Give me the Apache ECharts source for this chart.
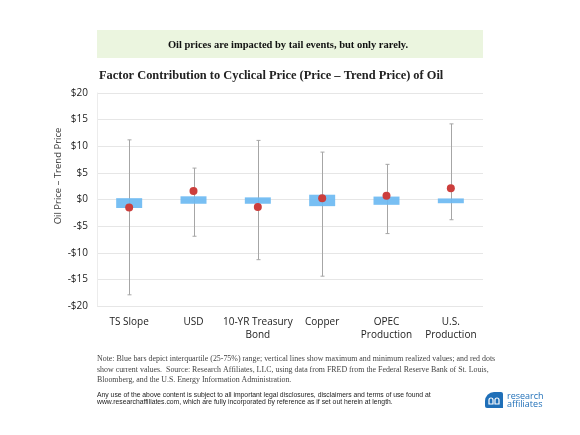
<!DOCTYPE html>
<html>
<head>
<meta charset="utf-8">
<script src="https://cdn.jsdelivr.net/npm/echarts@6/dist/echarts.min.js"></script>
<style>
  html, body { margin: 0; padding: 0; background: #fff; }
  #chart { width: 580px; height: 435px; }
</style>
</head>
<body>
<div id="chart"></div>
<script>
// ------------------------------
// Data
// ------------------------------
var categories = ['TS Slope', 'USD', '10-YR Treasury\nBond', 'Copper', 'OPEC\nProduction', 'U.S.\nProduction'];
var maxValues = [11.2, 5.9, 11.1, 8.9, 6.6, 14.2];
var minValues = [-17.9, -6.9, -11.3, -14.4, -6.4, -3.8];
var upperQuartile = [0.25, 0.6, 0.4, 0.9, 0.55, 0.2];
var lowerQuartile = [-1.6, -0.8, -0.8, -1.25, -1.0, -0.7];
var currentValues = [-1.5, 1.6, -1.4, 0.25, 0.7, 2.1];
var yTicks = [-20, -15, -10, -5, 0, 5, 10, 15, 20];

var whiskerData = categories.map(function (c, i) { return [i, maxValues[i], minValues[i]]; });
var boxData = categories.map(function (c, i) { return [i, upperQuartile[i], lowerQuartile[i]]; });

var chart = echarts.init(document.getElementById('chart'));

function renderWhisker(params, api) {
    var top = api.coord([api.value(0), api.value(1)]);
    var bot = api.coord([api.value(0), api.value(2)]);
    var x = Math.round(top[0]) + 0.5;
    var st = { stroke: '#a6a6a6', lineWidth: 1 };
    return {
        type: 'group',
        children: [
            { type: 'line', shape: { x1: x, y1: top[1], x2: x, y2: bot[1] }, style: st },
            { type: 'line', shape: { x1: x - 2, y1: top[1], x2: x + 2, y2: top[1] }, style: st },
            { type: 'line', shape: { x1: x - 2, y1: bot[1], x2: x + 2, y2: bot[1] }, style: st }
        ]
    };
}

function renderBox(params, api) {
    var top = api.coord([api.value(0), api.value(1)]);
    var bot = api.coord([api.value(0), api.value(2)]);
    var w = 26;
    return {
        type: 'rect',
        shape: { x: top[0] - w / 2, y: top[1], width: w, height: bot[1] - top[1] },
        style: { fill: '#6cbaf2', opacity: 0.92 }
    };
}

var option = {
    animation: false,
    grid: { left: 97, right: 97, top: 93, bottom: 129 },
    xAxis: {
        type: 'category',
        data: categories,
        axisLine: { show: false },
        axisTick: { show: false },
        axisLabel: {
            interval: 0,
            color: '#222', fontFamily: 'Open Sans', fontSize: 10,
            margin: 10, lineHeight: 13
        }
    },
    yAxis: {
        type: 'value',
        min: yTicks[0],
        max: yTicks[yTicks.length - 1],
        interval: 5,
        axisLine: { show: true, lineStyle: { color: '#ececec' } },
        axisTick: { show: false },
        splitLine: { lineStyle: { color: '#e6e6e6' } },
        axisLabel: {
            color: '#222', fontFamily: 'Open Sans', fontSize: 10, margin: 9,
            formatter: function (v) { return v < 0 ? '-$' + Math.abs(v) : '$' + v; }
        }
    },
    graphic: [
        { type: 'rect', shape: { x: 97, y: 30, width: 386, height: 28 }, style: { fill: '#ebf5df' } },
        { type: 'text', x: 288, y: 45, style: { text: 'Oil prices are impacted by tail events, but only rarely.',
            fontFamily: 'Liberation Serif', fontWeight: 'bold', fontSize: 10.5, fill: '#111',
            textAlign: 'center', textVerticalAlign: 'middle' } },
        { type: 'text', x: 99, y: 76, style: { text: 'Factor Contribution to Cyclical Price (Price \u2013 Trend Price) of Oil',
            fontFamily: 'Liberation Serif', fontWeight: 'bold', fontSize: 12.4, fill: '#222',
            textAlign: 'left', textVerticalAlign: 'middle' } },
        { type: 'text', x: 58, y: 176, rotation: Math.PI / 2, style: { text: 'Oil Price \u2013 Trend Price',
            fontFamily: 'Open Sans', fontSize: 9.5, fill: '#333',
            textAlign: 'center', textVerticalAlign: 'middle' } },
        { type: 'text', x: 97, y: 359, style: { text: 'Note: Blue bars depict interquartile (25-75%) range; vertical lines show maximum and minimum realized values; and red dots',
            fontFamily: 'Liberation Serif', fontSize: 7.9, fill: '#444', textVerticalAlign: 'middle' } },
        { type: 'text', x: 97, y: 369.5, style: { text: 'show current values.  Source: Research Affiliates, LLC, using data from FRED from the Federal Reserve Bank of St. Louis,',
            fontFamily: 'Liberation Serif', fontSize: 7.9, fill: '#444', textVerticalAlign: 'middle' } },
        { type: 'text', x: 97, y: 380, style: { text: 'Bloomberg, and the U.S. Energy Information Administration.',
            fontFamily: 'Liberation Serif', fontSize: 7.9, fill: '#444', textVerticalAlign: 'middle' } },
        { type: 'text', x: 97, y: 395, style: { text: 'Any use of the above content is subject to all important legal disclosures, disclaimers and terms of use found at',
            fontFamily: 'Liberation Sans', fontSize: 6.8, fill: '#222', textVerticalAlign: 'middle' } },
        { type: 'text', x: 97, y: 402.5, style: { text: 'www.researchaffiliates.com, which are fully incorporated by reference as if set out herein at length.',
            fontFamily: 'Liberation Sans', fontSize: 6.8, fill: '#222', textVerticalAlign: 'middle' } },
        { type: 'rect', shape: { x: 485, y: 392, width: 18, height: 16, r: [9, 2, 0, 2] }, style: { fill: '#1f6fb8' } },
        { type: 'rect', shape: { x: 489, y: 398, width: 4, height: 6, r: [2, 2, 0, 0] }, style: { fill: 'none', stroke: '#fff', lineWidth: 1.2 } },
        { type: 'rect', shape: { x: 495, y: 398, width: 4, height: 6, r: [2, 2, 0, 0] }, style: { fill: 'none', stroke: '#fff', lineWidth: 1.2 } },
        { type: 'text', x: 507, y: 396, style: { text: 'research', fontFamily: 'Open Sans', fontSize: 9, fill: '#1f6fb8', textVerticalAlign: 'middle' } },
        { type: 'text', x: 507, y: 404.5, style: { text: 'affiliates', fontFamily: 'Open Sans', fontSize: 9, fill: '#1f6fb8', textVerticalAlign: 'middle' } }
    ],
    series: [
        { type: 'custom', name: 'Range', renderItem: renderWhisker, data: whiskerData, z: 2 },
        { type: 'custom', name: 'Interquartile', renderItem: renderBox, data: boxData, z: 3 },
        {
            type: 'scatter', name: 'Current', data: currentValues, z: 4,
            symbolSize: 8, itemStyle: { color: '#cc3e3c', opacity: 1 }
        }
    ]
};

chart.setOption(option);
</script>
</body>
</html>
